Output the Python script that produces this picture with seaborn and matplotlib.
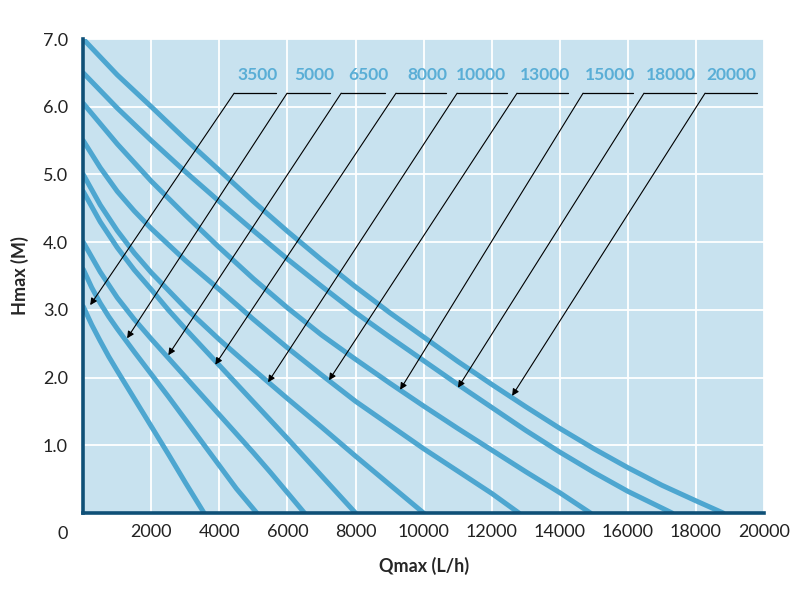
import pandas as pd
import seaborn as sns
import matplotlib.pyplot as plt

# pump models (max flow, L/h)
models = ["3500", "5000", "6500", "8000", "10000", "13000", "15000", "18000", "20000"]

# Q (L/h) / H (m) points
q_3500 = [0, 250, 500, 750, 1000, 1500, 2000, 2500, 3000, 3550]
h_3500 = [3.05, 2.78, 2.54, 2.31, 2.1, 1.69, 1.28, 0.87, 0.45, 0.0]
q_5000 = [0, 250, 500, 750, 1000, 1500, 2000, 2500, 3000, 3500, 4000, 4500, 5100]
h_5000 = [3.6, 3.33, 3.1, 2.9, 2.72, 2.38, 2.05, 1.72, 1.38, 1.04, 0.7, 0.36, 0.0]
q_6500 = [0, 500, 1000, 1500, 2000, 2500, 3000, 3500, 4000, 4500, 5000, 5500, 6000, 6500]
h_6500 = [4.0, 3.56, 3.18, 2.86, 2.57, 2.29, 2.01, 1.73, 1.45, 1.17, 0.89, 0.6, 0.3, 0.0]
q_8000 = [0, 500, 1000, 1500, 2000, 2500, 3000, 3500, 4000, 5000, 6000, 7000, 8000]
h_8000 = [4.75, 4.3, 3.92, 3.59, 3.3, 3.0, 2.72, 2.45, 2.18, 1.64, 1.1, 0.55, 0.0]
q_10000 = [0, 500, 1000, 1500, 2000, 3000, 4000, 5000, 6000, 7000, 8000, 9000, 10000]
h_10000 = [5.0, 4.55, 4.17, 3.84, 3.55, 3.03, 2.56, 2.12, 1.69, 1.27, 0.84, 0.42, 0.0]
q_13000 = [0, 500, 1000, 1500, 2000, 3000, 4000, 5000, 6000, 7000, 8000, 9000, 10000,
           11000, 12000, 12800]
h_13000 = [5.5, 5.1, 4.75, 4.46, 4.2, 3.73, 3.3, 2.86, 2.44, 2.04, 1.65, 1.3, 0.95,
           0.62, 0.29, 0.0]
q_15000 = [0, 1000, 2000, 3000, 4000, 5000, 6000, 7000, 8000, 9000, 10000, 11000,
           12000, 13000, 14000, 14900]
h_15000 = [6.05, 5.45, 4.9, 4.4, 3.92, 3.46, 3.03, 2.63, 2.27, 1.92, 1.58, 1.25,
           0.93, 0.61, 0.3, 0.0]
q_18000 = [0, 1000, 2000, 3000, 4000, 5000, 6000, 7000, 8000, 9000, 10000, 11000,
           12000, 13000, 14000, 15000, 16000, 17300]
h_18000 = [6.5, 5.98, 5.5, 5.04, 4.6, 4.17, 3.75, 3.35, 2.96, 2.6, 2.25, 1.9,
           1.56, 1.22, 0.9, 0.6, 0.32, 0.0]
q_20000 = [0, 1000, 2000, 3000, 4000, 5000, 6000, 7000, 8000, 9000, 10000, 11000,
           12000, 13000, 14000, 15000, 16000, 17000, 18000, 18800]
h_20000 = [7.0, 6.47, 6.0, 5.52, 5.06, 4.6, 4.16, 3.74, 3.34, 2.96, 2.6, 2.24,
           1.9, 1.57, 1.25, 0.95, 0.67, 0.41, 0.18, 0.0]

# label leader lines: horizontal segment (start, end) at LEAD_H, arrow tip
seg_start = [4435, 5990, 7580, 9190, 10985, 12745, 14685, 16475, 18270]
seg_end = [5670, 7255, 8870, 10660, 12450, 14245, 16150, 18000, 19795]
tip_q = [205, 1290, 2500, 3880, 5430, 7220, 9310, 11010, 12600]
tip_h = [3.07, 2.58, 2.33, 2.19, 1.93, 1.96, 1.82, 1.85, 1.73]
label_q = [5110, 6785, 8370, 10100, 11690, 13570, 15480, 17270, 19030]
LEAD_H = 6.2
LABEL_H = 6.47

curves = {
    "3500": (q_3500, h_3500), "5000": (q_5000, h_5000), "6500": (q_6500, h_6500),
    "8000": (q_8000, h_8000), "10000": (q_10000, h_10000), "13000": (q_13000, h_13000),
    "15000": (q_15000, h_15000), "18000": (q_18000, h_18000), "20000": (q_20000, h_20000),
}
rows = []
for m in models:
    qs, hs = curves[m]
    for q, h in zip(qs, hs):
        rows.append({"model": m, "Q": q, "H": h})
df = pd.DataFrame(rows)

BG = "#c8e2ef"
CURVE = "#4da6d0"
NAVY = "#0f5077"
LABEL_C = "#5aaed6"

sns.set_style("whitegrid", {"axes.facecolor": BG, "grid.color": "white"})
plt.rcParams["font.family"] = ["Lato", "DejaVu Sans"]

fig = plt.figure(figsize=(8, 6), dpi=100)
ax = fig.add_axes([0.104, 0.145, 0.851, 0.79])

sns.lineplot(data=df, x="Q", y="H", hue="model", hue_order=models,
             palette=[CURVE] * len(models), estimator=None, sort=False,
             linewidth=3.6, legend=False, ax=ax)

for i, m in enumerate(models):
    ax.plot([seg_start[i], seg_end[i]], [LEAD_H, LEAD_H], color="black", lw=0.9)
    ax.annotate("", xy=(tip_q[i], tip_h[i]), xytext=(seg_start[i], LEAD_H),
                arrowprops=dict(arrowstyle="-|>", color="black", lw=0.8,
                                mutation_scale=10, shrinkA=0, shrinkB=0))
    ax.text(label_q[i], LABEL_H, m, color=LABEL_C, fontsize=12.5,
            fontweight="bold", ha="center", va="center")

ax.set_xlim(0, 20000)
ax.set_ylim(0, 7.0)
ax.set_xticks(range(2000, 20001, 2000))
ax.set_yticks([1, 2, 3, 4, 5, 6, 7])
ax.set_yticklabels(["1.0", "2.0", "3.0", "4.0", "5.0", "6.0", "7.0"])
ax.tick_params(length=0, labelsize=13, colors="#222222")
ax.tick_params(axis="y", pad=11)
ax.tick_params(axis="x", pad=8)
ax.grid(True, color="white", lw=1.3)
ax.text(-0.03, -0.045, "0", transform=ax.transAxes, fontsize=13,
        color="#222222", ha="center", va="center")

for side in ["top", "right"]:
    ax.spines[side].set_visible(False)
for side in ["left", "bottom"]:
    ax.spines[side].set_color(NAVY)
    ax.spines[side].set_linewidth(2.6)

ax.set_xlabel("Qmax (L/h)", fontsize=13, fontweight="bold", labelpad=12)
ax.set_ylabel("Hmax (M)", fontsize=13, fontweight="bold", labelpad=10)

fig.savefig("out.png", dpi=100)
